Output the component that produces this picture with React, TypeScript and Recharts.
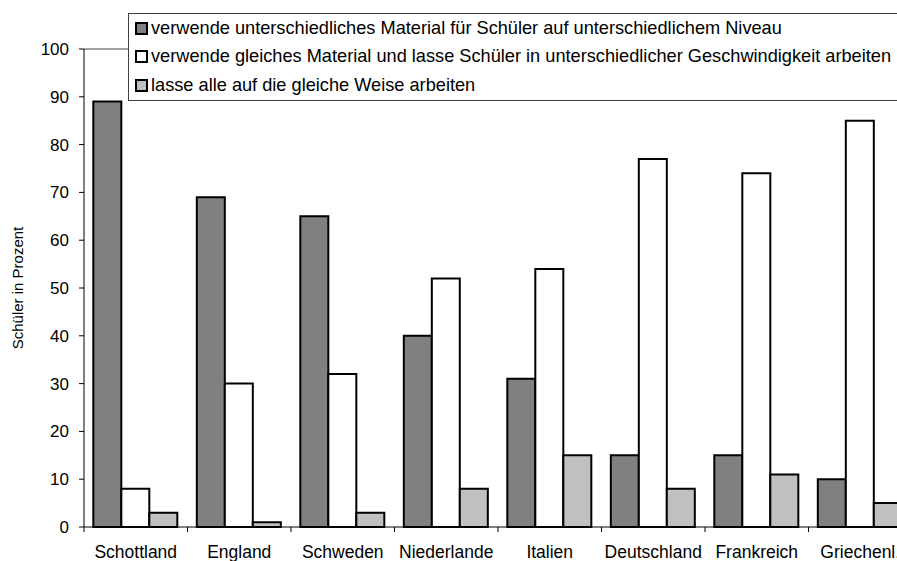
import React from "react";
import { BarChart, Bar, XAxis, YAxis, ReferenceLine, Label } from "recharts";

const countries = ["Schottland", "England", "Schweden", "Niederlande", "Italien", "Deutschland", "Frankreich", "Griechenl."];
const unterschiedlichesMaterial = [89, 69, 65, 40, 31, 15, 15, 10];
const gleichesMaterial = [8, 30, 32, 52, 54, 77, 74, 85];
const gleicheWeise = [3, 1, 3, 8, 15, 8, 11, 5];
const yTicks = [0, 10, 20, 30, 40, 50, 60, 70, 80, 90, 100];

const seriesNames = [
  "verwende unterschiedliches Material für Schüler auf unterschiedlichem Niveau",
  "verwende gleiches Material und lasse Schüler in unterschiedlicher Geschwindigkeit arbeiten",
  "lasse alle auf die gleiche Weise arbeiten",
];
const colors = ["#808080", "#ffffff", "#c0c0c0"];

const data = countries.map((c, i) => ({
  name: c,
  a: unterschiedlichesMaterial[i],
  b: gleichesMaterial[i],
  c: gleicheWeise[i],
}));

const FONT = "'Liberation Sans', Arial, sans-serif";
const CHART_W = 930;
const MARGIN_RIGHT = 18;
const Y_W = 84;
const BAND = (CHART_W - Y_W - MARGIN_RIGHT) / countries.length;

const XTick = (props: any) => {
  const { x, y, payload } = props;
  return (
    <g>
      <line x1={x - BAND / 2} x2={x - BAND / 2} y1={y - 8} y2={y - 3} stroke="#000" strokeWidth={1} />
      {payload.index === countries.length - 1 ? (
        <line x1={x + BAND / 2} x2={x + BAND / 2} y1={y - 8} y2={y - 3} stroke="#000" strokeWidth={1} />
      ) : null}
      <text x={x} y={y + 23} textAnchor="middle" fontSize={17.5} fontFamily={FONT} fill="#000">
        {payload.value}
      </text>
    </g>
  );
};

const LegendBox = () => (
  <div
    style={{
      position: "absolute",
      left: 128,
      top: 13,
      border: "1.5px solid #404040",
      background: "#fff",
      width: 800,
      height: 88,
      boxSizing: "border-box",
      fontFamily: FONT,
      fontSize: 18.2,
      color: "#000",
    }}
  >
    {seriesNames.map((n, i) => (
      <div key={n} style={{ display: "flex", alignItems: "center", height: 28.5, whiteSpace: "nowrap" }}>
        <span
          style={{
            display: "inline-block",
            width: 13,
            height: 13,
            boxSizing: "border-box",
            border: "2px solid #000",
            background: colors[i],
            marginLeft: 6,
            marginRight: 3,
            flexShrink: 0,
          }}
        />
        <span>{n}</span>
      </div>
    ))}
  </div>
);

export default function App() {
  return (
    <div style={{ position: "fixed", left: 0, top: 0, width: 897, height: 561, overflow: "hidden", background: "#fff" }}>
      <BarChart
        width={CHART_W}
        height={561}
        data={data}
        margin={{ top: 49, right: MARGIN_RIGHT, left: 0, bottom: 0 }}
        barCategoryGap="9%"
        barGap={0}
      >
        <ReferenceLine y={100} stroke="#808080" strokeWidth={1.5} />
        <XAxis
          dataKey="name"
          height={34}
          tick={<XTick />}
          tickLine={false}
          axisLine={{ stroke: "#000", strokeWidth: 1 }}
          interval={0}
        />
        <YAxis
          width={Y_W}
          domain={[0, 100]}
          ticks={yTicks}
          interval={0}
          tickSize={5}
          tickMargin={10}
          axisLine={{ stroke: "#000", strokeWidth: 1 }}
          tickLine={{ stroke: "#000" }}
          tick={{ fontSize: 17, fontFamily: FONT, fill: "#000" }}
        >
          <Label
            value="Schüler in Prozent"
            angle={-90}
            position="insideLeft"
            offset={18}
            style={{ fontSize: 15, fontFamily: FONT, fill: "#000", textAnchor: "middle" }}
          />
        </YAxis>
        <Bar dataKey="a" name={seriesNames[0]} fill={colors[0]} stroke="#000" strokeWidth={2} isAnimationActive={false} />
        <Bar dataKey="b" name={seriesNames[1]} fill={colors[1]} stroke="#000" strokeWidth={2} isAnimationActive={false} />
        <Bar dataKey="c" name={seriesNames[2]} fill={colors[2]} stroke="#000" strokeWidth={2} isAnimationActive={false} />
      </BarChart>
      <LegendBox />
    </div>
  );
}
